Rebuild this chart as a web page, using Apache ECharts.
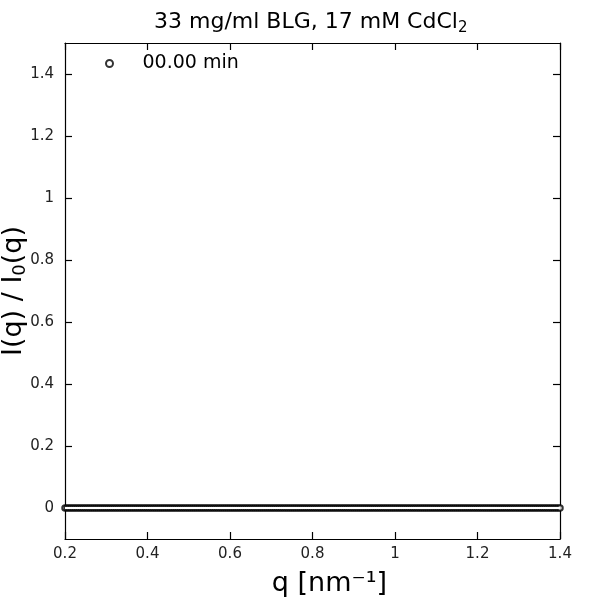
<!DOCTYPE html>
<html>
<head>
<meta charset="utf-8">
<script src="https://cdn.jsdelivr.net/npm/echarts@6/dist/echarts.min.js"></script>
<style>html,body{margin:0;padding:0;background:#fff}#chart{width:600px;height:600px}</style>
</head>
<body>
<div id="chart"></div>
<script>
// q grid [nm^-1]
const qValues = [
  0.2, 0.205, 0.21, 0.215, 0.22, 0.225, 0.23, 0.235, 0.24, 0.245, 0.25, 0.255, 0.26, 0.265, 0.27, 0.275, 0.28, 0.285, 0.29, 0.295,
  0.3, 0.305, 0.31, 0.315, 0.32, 0.325, 0.33, 0.335, 0.34, 0.345, 0.35, 0.355, 0.36, 0.365, 0.37, 0.375, 0.38, 0.385, 0.39, 0.395,
  0.4, 0.405, 0.41, 0.415, 0.42, 0.425, 0.43, 0.435, 0.44, 0.445, 0.45, 0.455, 0.46, 0.465, 0.47, 0.475, 0.48, 0.485, 0.49, 0.495,
  0.5, 0.505, 0.51, 0.515, 0.52, 0.525, 0.53, 0.535, 0.54, 0.545, 0.55, 0.555, 0.56, 0.565, 0.57, 0.575, 0.58, 0.585, 0.59, 0.595,
  0.6, 0.605, 0.61, 0.615, 0.62, 0.625, 0.63, 0.635, 0.64, 0.645, 0.65, 0.655, 0.66, 0.665, 0.67, 0.675, 0.68, 0.685, 0.69, 0.695,
  0.7, 0.705, 0.71, 0.715, 0.72, 0.725, 0.73, 0.735, 0.74, 0.745, 0.75, 0.755, 0.76, 0.765, 0.77, 0.775, 0.78, 0.785, 0.79, 0.795,
  0.8, 0.805, 0.81, 0.815, 0.82, 0.825, 0.83, 0.835, 0.84, 0.845, 0.85, 0.855, 0.86, 0.865, 0.87, 0.875, 0.88, 0.885, 0.89, 0.895,
  0.9, 0.905, 0.91, 0.915, 0.92, 0.925, 0.93, 0.935, 0.94, 0.945, 0.95, 0.955, 0.96, 0.965, 0.97, 0.975, 0.98, 0.985, 0.99, 0.995,
  1.0, 1.005, 1.01, 1.015, 1.02, 1.025, 1.03, 1.035, 1.04, 1.045, 1.05, 1.055, 1.06, 1.065, 1.07, 1.075, 1.08, 1.085, 1.09, 1.095,
  1.1, 1.105, 1.11, 1.115, 1.12, 1.125, 1.13, 1.135, 1.14, 1.145, 1.15, 1.155, 1.16, 1.165, 1.17, 1.175, 1.18, 1.185, 1.19, 1.195,
  1.2, 1.205, 1.21, 1.215, 1.22, 1.225, 1.23, 1.235, 1.24, 1.245, 1.25, 1.255, 1.26, 1.265, 1.27, 1.275, 1.28, 1.285, 1.29, 1.295,
  1.3, 1.305, 1.31, 1.315, 1.32, 1.325, 1.33, 1.335, 1.34, 1.345, 1.35, 1.355, 1.36, 1.365, 1.37, 1.375, 1.38, 1.385, 1.39, 1.395,
  1.4
]

// I(q)/I0(q) at t = 00.00 min
const ratioValues = [
  0, 0, 0, 0, 0, 0, 0, 0, 0, 0, 0, 0, 0, 0, 0, 0, 0, 0, 0, 0,
  0, 0, 0, 0, 0, 0, 0, 0, 0, 0, 0, 0, 0, 0, 0, 0, 0, 0, 0, 0,
  0, 0, 0, 0, 0, 0, 0, 0, 0, 0, 0, 0, 0, 0, 0, 0, 0, 0, 0, 0,
  0, 0, 0, 0, 0, 0, 0, 0, 0, 0, 0, 0, 0, 0, 0, 0, 0, 0, 0, 0,
  0, 0, 0, 0, 0, 0, 0, 0, 0, 0, 0, 0, 0, 0, 0, 0, 0, 0, 0, 0,
  0, 0, 0, 0, 0, 0, 0, 0, 0, 0, 0, 0, 0, 0, 0, 0, 0, 0, 0, 0,
  0, 0, 0, 0, 0, 0, 0, 0, 0, 0, 0, 0, 0, 0, 0, 0, 0, 0, 0, 0,
  0, 0, 0, 0, 0, 0, 0, 0, 0, 0, 0, 0, 0, 0, 0, 0, 0, 0, 0, 0,
  0, 0, 0, 0, 0, 0, 0, 0, 0, 0, 0, 0, 0, 0, 0, 0, 0, 0, 0, 0,
  0, 0, 0, 0, 0, 0, 0, 0, 0, 0, 0, 0, 0, 0, 0, 0, 0, 0, 0, 0,
  0, 0, 0, 0, 0, 0, 0, 0, 0, 0, 0, 0, 0, 0, 0, 0, 0, 0, 0, 0,
  0, 0, 0, 0, 0, 0, 0, 0, 0, 0, 0, 0, 0, 0, 0, 0, 0, 0, 0, 0,
  0
]

const seriesName = '00.00 min'
const xTicks = [0.2, 0.4, 0.6, 0.8, 1, 1.2, 1.4]
const yTicks = [0, 0.2, 0.4, 0.6, 0.8, 1, 1.2, 1.4]

const font = 'DejaVu Sans'
const chart = echarts.init(document.getElementById('chart'), null, { renderer: 'canvas' })

// 框线和刻度（四边都有，刻度朝内）
const axisLine = { show: true, onZero: false, lineStyle: { color: '#000', width: 1.2 } }
const axisTick = { show: true, inside: true, length: 7, lineStyle: { color: '#000', width: 1.2 } }

const points = qValues.map((q, i) => [q, ratioValues[i]])

chart.setOption({
  animation: false,
  backgroundColor: '#fff',
  title: {
    text: '{a|33 mg/ml BLG, 17 mM CdCl}{s|2}',
    left: 149,
    top: 3,
    textStyle: {
      rich: {
        a: { fontFamily: font, fontSize: 22, fontWeight: 'normal', color: '#000', lineHeight: 28 },
        s: { fontFamily: font, fontSize: 15, fontWeight: 'normal', color: '#000', lineHeight: 15, verticalAlign: 'bottom' }
      }
    }
  },
  legend: {
    data: [seriesName],
    left: 100,
    top: 49,
    itemWidth: 56,
    itemHeight: 7,
    textStyle: { fontFamily: font, fontSize: 19, color: '#000' }
  },
  grid: { left: 65, right: 40, top: 43, bottom: 61, outerBoundsMode: 'none' },
  xAxis: [
    {
      type: 'value',
      min: 0.2,
      max: 1.4,
      interval: 0.2,
      name: 'q [nm⁻¹]',
      nameLocation: 'middle',
      nameGap: 31,
      nameTextStyle: { fontFamily: font, fontSize: 27, color: '#000', padding: [0, 0, 0, 34] },
      axisLine,
      axisTick: { ...axisTick, customValues: xTicks },
      axisLabel: {
        customValues: xTicks,
        margin: 8,
        fontFamily: font,
        fontSize: 15,
        color: '#222',
        formatter: v => String(+v.toFixed(1))
      },
      splitLine: { show: false }
    },
    {
      type: 'value',
      position: 'top',
      min: 0.2,
      max: 1.4,
      interval: 0.2,
      axisLine,
      axisTick: { ...axisTick, customValues: xTicks },
      axisLabel: { show: false },
      splitLine: { show: false }
    }
  ],
  yAxis: [
    {
      type: 'value',
      min: -0.1,
      max: 1.5,
      name: '{a|I(q) / I}{s|0}{a|(q)}',
      nameLocation: 'middle',
      nameGap: 36,
      nameMoveOverlap: false,
      nameTextStyle: {
        rich: {
          a: { fontFamily: font, fontSize: 27, color: '#000', lineHeight: 30 },
          s: { fontFamily: font, fontSize: 18, color: '#000', lineHeight: 18, verticalAlign: 'bottom' }
        }
      },
      axisLine,
      axisTick: { ...axisTick, customValues: yTicks },
      axisLabel: {
        customValues: yTicks,
        margin: 11,
        fontFamily: font,
        fontSize: 15,
        color: '#222',
        formatter: v => String(+v.toFixed(1))
      },
      splitLine: { show: false }
    },
    {
      type: 'value',
      position: 'right',
      min: -0.1,
      max: 1.5,
      axisLine,
      axisTick: { ...axisTick, customValues: yTicks },
      axisLabel: { show: false },
      splitLine: { show: false }
    }
  ],
  series: [
    {
      name: seriesName,
      type: 'scatter',
      symbol: 'emptyCircle',
      symbolSize: 5.5,
      z: 2,
      itemStyle: { color: '#000', borderColor: '#000', borderWidth: 1.5 },
      data: points
    },
    {
      // 空心圆叠在一起时中间留白（跟原图一样）
      name: 'inner',
      type: 'line',
      z: 3,
      silent: true,
      showSymbol: false,
      lineStyle: { color: '#fff', width: 2.2 },
      data: points
    }
  ]
})

window.addEventListener('resize', () => chart.resize())
</script>
</body>
</html>
